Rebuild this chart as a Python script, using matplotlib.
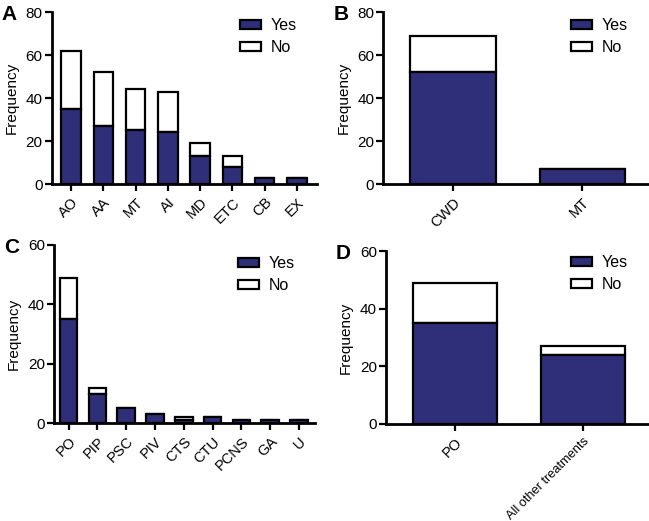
import matplotlib
matplotlib.use("Agg")
import matplotlib.pyplot as plt
from matplotlib.patches import Patch

plt.rcParams['font.family'] = ['Liberation Sans', 'DejaVu Sans']

# Panel A
a_cats = ["AO", "AA", "MT", "AI", "MD", "ETC", "CB", "EX"]
a_yes = [35, 27, 25, 24, 13, 8, 3, 3]
a_no = [27, 25, 19, 19, 6, 5, 0, 0]
# Panel B
b_cats = ["CWD", "MT"]
b_yes = [52, 7]
b_no = [17, 0]
# Panel C
c_cats = ["PO", "PIP", "PSC", "PIV", "CTS", "CTU", "PCNS", "GA", "U"]
c_yes = [35, 10, 5, 3, 1, 2, 1, 1, 1]
c_no = [14, 2, 0, 0, 1, 0, 0, 0, 0]
# Panel D
d_cats = ["PO", "All other treatments"]
d_yes = [35, 24]
d_no = [14, 3]

NAVY = "#2E2F78"
LW = 1.6

fig = plt.figure(figsize=(6.49, 5.21), dpi=100)

panels = [
    ("A", [0.0797, 0.6468, 0.4087, 0.330], a_cats, a_yes, a_no, 0.6, (-0.6, 7.62), 80, 1.03),
    ("B", [0.5906, 0.6468, 0.408, 0.330], b_cats, b_yes, b_no, 0.66, (-0.54, 1.51), 80, 1.03),
    ("C", [0.0832, 0.1875, 0.402, 0.3423], c_cats, c_yes, c_no, 0.61, (-0.51, 8.55), 60, 1.0),
    ("D", [0.5948, 0.1862, 0.4037, 0.332], d_cats, d_yes, d_no, 0.66, (-0.54, 1.51), 60, 1.04),
]

for letter, rect, cats, yes, no, w, xl, ymax, ly in panels:
    ax = fig.add_axes(rect)
    x = list(range(len(cats)))
    ax.bar(x, yes, width=w, color=NAVY, edgecolor="black", linewidth=LW, label="Yes", zorder=3)
    ax.bar(x, no, width=w, bottom=yes, color="white", edgecolor="black", linewidth=LW, label="No", zorder=2)
    ax.set_xlim(*xl)
    ax.set_ylim(0, ymax)
    ax.set_yticks(range(0, ymax + 1, 20))
    ax.set_xticks(x)
    labels = ax.set_xticklabels(cats, rotation=45, ha="right", rotation_mode="anchor", fontsize=10.5)
    for lab in labels:
        if len(lab.get_text()) > 10:
            lab.set_fontsize(9.2)
    ax.tick_params(axis="y", labelsize=11, width=LW, length=5, pad=1.5)
    ax.tick_params(axis="x", width=LW, length=5, pad=3)
    for s in ["top", "right"]:
        ax.spines[s].set_visible(False)
    for s in ["left", "bottom"]:
        ax.spines[s].set_linewidth(2)
    ax.set_ylabel("Frequency", fontsize=11, labelpad=5)
    handles = [Patch(facecolor=NAVY, edgecolor="black", linewidth=LW, label="Yes"),
               Patch(facecolor="white", edgecolor="black", linewidth=LW, label="No")]
    ax.legend(handles=handles, loc="upper right", frameon=False, fontsize=11.5,
              handlelength=1.3, handleheight=0.45, handletextpad=0.6,
              labelspacing=0.45, borderaxespad=0.3, bbox_to_anchor=(0.965, ly))
    fig.text(rect[0] - 0.077, rect[1] + rect[3] - 0.005, letter, fontsize=15,
             fontweight="bold", va="center", ha="left")

fig.savefig("out.png", dpi=100)
